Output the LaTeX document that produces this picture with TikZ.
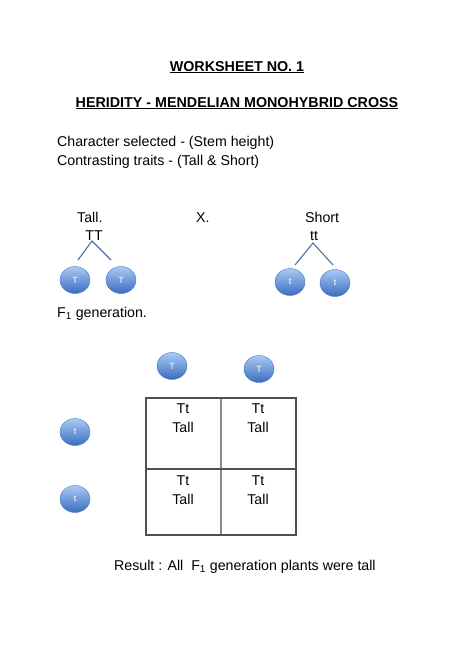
\documentclass[tikz,border=0pt]{standalone}
\usepackage{fontspec}
\setmainfont{Liberation Sans}
\usetikzlibrary{shapes.geometric}
\definecolor{balltop}{HTML}{A9CAF2}
\definecolor{ballbot}{HTML}{3A6CC0}
\definecolor{ballline}{HTML}{4A78C0}
\definecolor{linkcol}{HTML}{4F6F9F}
\definecolor{gridouter}{HTML}{505050}
\definecolor{gridinner}{HTML}{8A8A8A}
\tikzset{
  gamete/.style={ellipse, minimum width=30pt, minimum height=27pt, inner sep=0pt,
    top color=balltop, bottom color=ballbot, draw=ballline, line width=0.4pt,
    text=white, font=\fontsize{9}{10}\selectfont},
  title/.style={font=\fontsize{14.3}{16}\selectfont\bfseries, anchor=base, inner sep=0pt},
  body/.style={font=\fontsize{14.2}{15}\selectfont, inner sep=0pt},
  link/.style={draw=linkcol, line width=1.1pt},
  cell/.style={font=\fontsize{14.2}{19}\selectfont, inner sep=0pt, align=center}
}
\begin{document}
\begin{tikzpicture}[x=1pt,y=-1pt]
\useasboundingbox (0,0) rectangle (474,669);
% titles
\node[title] (t1) at (237,71) {\underline{WORKSHEET NO. 1}};
\node[title] (t2) at (237,107) {\underline{HERIDITY - MENDELIAN MONOHYBRID CROSS}};
\node[body, anchor=base west] (c1) at (57,146) {Character selected - (Stem height)};
\node[body, anchor=base west] (c2) at (57,165) {Contrasting traits - (Tall \& Short)};
% parents
\node[body, anchor=base west] (tall) at (77,222) {Tall.};
\node[body, anchor=base west] (x) at (196,222) {X.};
\node[body, anchor=base west] (short) at (305,222) {Short};
\node[body, anchor=base] (TT) at (94,240) {TT};
\node[body, anchor=base] (tt) at (314,240) {tt};
\coordinate (TTa) at (92,241);
\coordinate (TTl) at (78,260);
\coordinate (TTr) at (111,260);
\coordinate (tta) at (313,243);
\coordinate (ttl) at (295,265);
\coordinate (ttr) at (333,265);
\draw[link] (TTl) -- (TTa) -- (TTr);
\draw[link] (ttl) -- (tta) -- (ttr);
\node[gamete] (g1) at (75,280) {T};
\node[gamete] (g2) at (121,280) {T};
\node[gamete] (g3) at (290,282) {t};
\node[gamete] (g4) at (335,283) {t};
% F1
\node[body, anchor=base west] (f1) at (57,317) {F\textsubscript{1} generation.};
\node[gamete] (p1) at (172,366) {T};
\node[gamete] (p2) at (259,369) {T};
\node[gamete] (p3) at (75,432) {t};
\node[gamete] (p4) at (75,499) {t};
% grid
\coordinate (gtl) at (146,398);
\coordinate (gbr) at (296,535);
\coordinate (gmt) at (221,398);
\coordinate (gmb) at (221,535);
\coordinate (gml) at (146,469);
\coordinate (gmr) at (296,469);
\draw[draw=gridinner, line width=1.2pt] (gmt) -- (gmb);
\draw[draw=gridouter, line width=1.2pt] (gml) -- (gmr);
\draw[draw=gridouter, line width=1.3pt] (gtl) rectangle (gbr);
\node[cell, anchor=north] (a1) at (183,404) {Tt\\Tall};
\node[cell, anchor=north] (a2) at (258,404) {Tt\\Tall};
\node[cell, anchor=north] (a3) at (183,476) {Tt\\Tall};
\node[cell, anchor=north] (a4) at (258,476) {Tt\\Tall};
% result
\node[body, anchor=base west] (res) at (114,570) {Result : All\ \ F\textsubscript{1} generation plants were tall};
\end{tikzpicture}
\end{document}
